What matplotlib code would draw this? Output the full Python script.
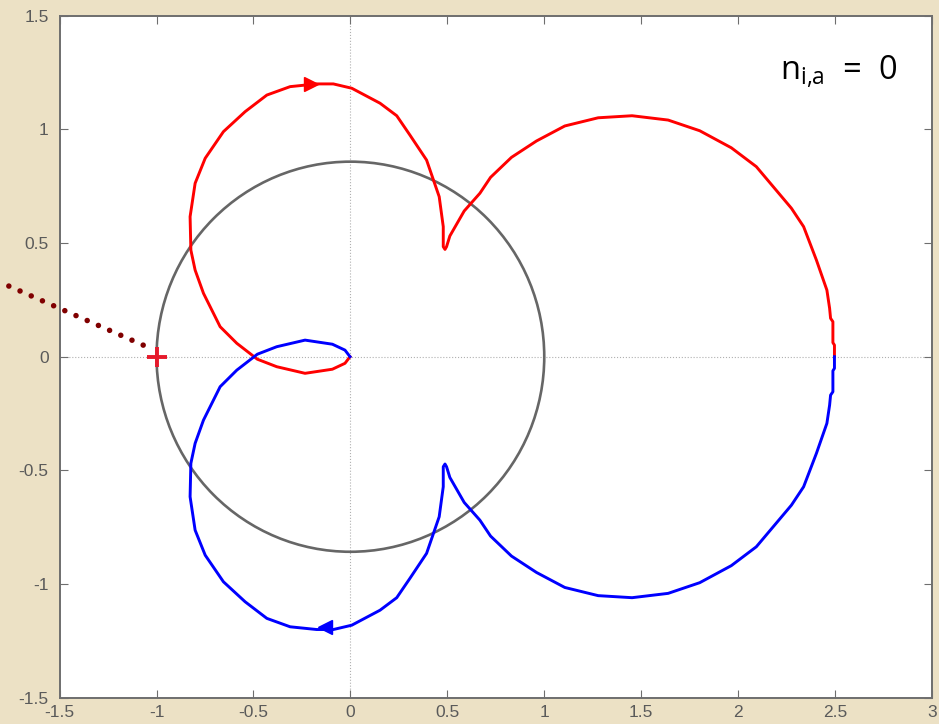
import numpy as np
import matplotlib.pyplot as plt
from matplotlib.patches import Ellipse

plt.rcParams['font.family'] = ['Liberation Sans', 'DejaVu Sans']
plt.rcParams['axes.unicode_minus'] = False

# Nyquist locus for positive frequencies (from the origin out to the DC point)
re_pos = [-0.002, -0.028, -0.093, -0.234, -0.380, -0.480, -0.586, -0.672,
          -0.758, -0.801, -0.823, -0.827, -0.801, -0.749, -0.655, -0.543,
          -0.431, -0.311, -0.174, -0.088, 0.007, 0.153, 0.239, 0.307,
          0.393, 0.458, 0.479, 0.479, 0.488, 0.496, 0.513, 0.587,
          0.668, 0.723, 0.831, 0.960, 1.106, 1.278, 1.453, 1.639,
          1.802, 1.965, 2.094, 2.275, 2.338, 2.404, 2.458, 2.472,
          2.477, 2.489, 2.489, 2.497, 2.497]
im_pos = [0.000, -0.029, -0.055, -0.073, -0.044, -0.011, 0.059, 0.132,
          0.279, 0.381, 0.469, 0.616, 0.763, 0.873, 0.990, 1.078,
          1.151, 1.188, 1.200, 1.200, 1.181, 1.115, 1.060, 0.975,
          0.865, 0.704, 0.572, 0.484, 0.472, 0.484, 0.531, 0.641,
          0.719, 0.789, 0.877, 0.949, 1.015, 1.051, 1.060, 1.041,
          0.994, 0.919, 0.836, 0.653, 0.572, 0.425, 0.293, 0.213,
          0.169, 0.154, 0.062, 0.051, 0.000]

# negative frequencies are the mirror image
re_neg = re_pos
im_neg = [-v for v in im_pos]

# direction arrows
arrow_pos = (-0.203, 1.200)
arrow_neg = (-0.131, -1.188)

# critical point and the ray leaving it
crit = (-1.0, 0.0)
ray_x = [-1.069, -1.80]
ray_y = [0.051, 0.325]

# unit circle, semi-axes as shown on this (unequal) scale
circle_rx, circle_ry = 1.0, 0.858

fig = plt.figure(figsize=(9.39, 7.24), dpi=100)
fig.patch.set_facecolor('#ece1c5')
ax = fig.add_axes([0.0635, 0.0363, 0.929, 0.942])
ax.set_facecolor('white')

ax.axhline(0, color='#b0b0b0', lw=0.8, ls=':', zorder=1)
ax.axvline(0, color='#b0b0b0', lw=0.8, ls=':', zorder=1)

ax.add_patch(Ellipse((0, 0), 2 * circle_rx, 2 * circle_ry, fill=False,
                     ec='#666666', lw=1.9, zorder=2))

ax.plot(re_pos, im_pos, color='#ff0000', lw=2.1, zorder=3)
ax.plot(re_neg, im_neg, color='#0000ff', lw=2.1, zorder=3)
ax.plot(*arrow_pos, marker='>', ms=9.5, color='#ff0000', zorder=4)
ax.plot(*arrow_neg, marker='<', ms=9.5, color='#0000ff', zorder=4)

ax.plot(ray_x, ray_y, color='#800000', lw=4.0, ls=(0, (0.001, 2.2)),
        dash_capstyle='round', clip_on=False, zorder=5)
ax.plot(*crit, marker='+', ms=15, mew=2.8, color='#e6192b', zorder=6)

ax.text(2.82, 1.217, r'n$\mathregular{_{i{,}a}}$  =  0', ha='right',
        va='baseline', fontsize=23.5, family=['Open Sans', 'DejaVu Sans'],
        color='black')

ax.set_xlim(-1.5, 3)
ax.set_ylim(-1.5, 1.5)
ax.set_xticks(np.arange(-1.5, 3.01, 0.5))
ax.set_yticks(np.arange(-1.5, 1.51, 0.5))
ax.xaxis.set_major_formatter(plt.FormatStrFormatter('%g'))
ax.yaxis.set_major_formatter(plt.FormatStrFormatter('%g'))
ax.tick_params(direction='in', length=5.5, width=0.8, color='#6e6e6e',
               labelcolor='#5a5a5a', labelsize=12.5, top=True, right=True)
ax.tick_params(axis='x', pad=5)
ax.tick_params(axis='y', pad=8)
for sp in ax.spines.values():
    sp.set_color('#6e6e6e')
    sp.set_linewidth(1.4)

fig.savefig('out.png', dpi=100, facecolor=fig.get_facecolor())
